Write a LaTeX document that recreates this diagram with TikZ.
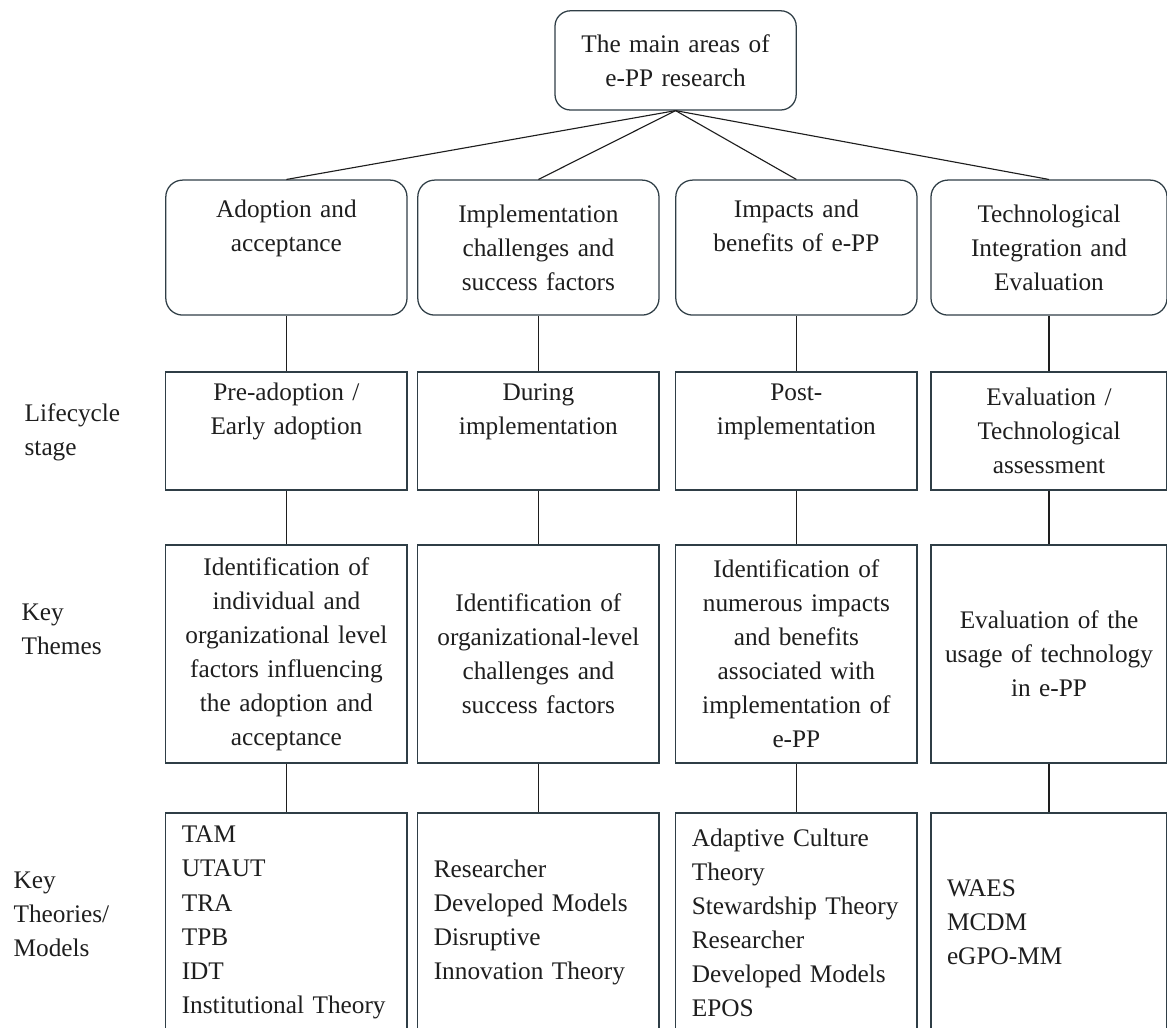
\documentclass[tikz,border=0pt]{standalone}
\usepackage{fontspec}
\setmainfont{Liberation Serif}
\usepackage{xcolor}
\definecolor{boxLine}{HTML}{2F3E46}
\definecolor{inkGray}{HTML}{1E1E1E}
\newcommand{\diagfont}{\fontsize{18}{24.2}\selectfont}

\begin{document}
\begin{tikzpicture}[line width=0.9pt]
\tikzstyle{area}=[draw=boxLine,rounded corners=12pt,text width=5.63cm,inner xsep=0.2cm,minimum height=3.375cm,align=center,font=\diagfont,text=inkGray]
\tikzstyle{stage}=[draw=boxLine,text width=5.63cm,inner xsep=0.2cm,minimum height=2.95cm,align=center,font=\diagfont,text=inkGray]
\tikzstyle{theme}=[stage,minimum height=5.45cm]
\tikzstyle{models}=[stage,minimum height=5.475cm,text width=5.23cm,inner xsep=0.4cm,align=left]
\tikzstyle{rowlabel}=[anchor=west,inner sep=0pt,align=left,font=\diagfont,text=inkGray]
\tikzstyle{link}=[draw=inkGray,line width=0.8pt]
\useasboundingbox (0,0) rectangle (29.175,-25.7);
\clip (0,0) rectangle (29.175,-25.7);
% top
\node[area,minimum height=2.48cm,rounded corners=11pt] (main) at (16.89,-1.51) {The main areas of\\e-PP research};
% areas
\node[area] (adopt) at (7.16,-6.19) {Adoption and\\acceptance\\\strut};
\node[area] (implc) at (13.46,-6.19) {Implementation\\challenges and\\success factors};
\node[area] (impact) at (19.91,-6.19) {Impacts and\\benefits of e-PP\\\strut};
\node[area,text width=5.5cm] (techint) at (26.225,-6.19) {Technological\\Integration and\\Evaluation};
% lifecycle stage
\node[stage] (preStage) at (7.16,-10.775) {Pre-adoption /\\Early adoption\\\strut};
\node[stage] (duringStage) at (13.46,-10.775) {During\\implementation\\\strut};
\node[stage] (postStage) at (19.91,-10.775) {Post-\\implementation\\\strut};
\node[stage,text width=5.5cm] (evalStage) at (26.225,-10.775) {Evaluation /\\Technological\\assessment};
% key themes
\node[theme] (adoptTheme) at (7.16,-16.35) {Identification of\\individual and\\organizational level\\factors influencing\\the adoption and\\acceptance};
\node[theme] (implTheme) at (13.46,-16.35) {Identification of\\organizational-level\\challenges and\\success factors};
\node[theme] (impactTheme) at (19.91,-16.35) {Identification of\\numerous impacts\\and benefits\\associated with\\implementation of\\e-PP};
\node[theme,text width=5.5cm] (techTheme) at (26.225,-16.35) {Evaluation of the\\usage of technology\\in e-PP};
% key theories / models
\node[models] (adoptModels) at (7.16,-23.06) {TAM\\UTAUT\\TRA\\TPB\\IDT\\Institutional Theory};
\node[models] (implModels) at (13.46,-23.06) {Researcher\\Developed Models\\Disruptive\\Innovation Theory};
\node[models] (impactModels) at (19.91,-23.06) {Adaptive Culture\\Theory\\Stewardship Theory\\Researcher\\Developed Models\\EPOS};
\node[models,text width=5.1cm] (techModels) at (26.225,-23.06) {WAES\\MCDM\\eGPO-MM};
% row labels
\node[rowlabel] (lifeLbl) at (0.6,-10.8) {Lifecycle\\stage};
\node[rowlabel] (themeLbl) at (0.525,-15.74) {Key\\Themes};
\node[rowlabel] (modelLbl) at (0.325,-22.85) {Key\\Theories/\\Models};
% connectors
\foreach \c in {adopt,implc,impact,techint}{\draw[link] (main.south) -- (\c.north);}
\foreach \a/\b in {adopt/preStage,implc/duringStage,impact/postStage,techint/evalStage,
  preStage/adoptTheme,duringStage/implTheme,postStage/impactTheme,evalStage/techTheme,
  adoptTheme/adoptModels,implTheme/implModels,impactTheme/impactModels,techTheme/techModels}
  {\draw[link] (\a.south) -- (\b.north);}
\end{tikzpicture}
\end{document}
